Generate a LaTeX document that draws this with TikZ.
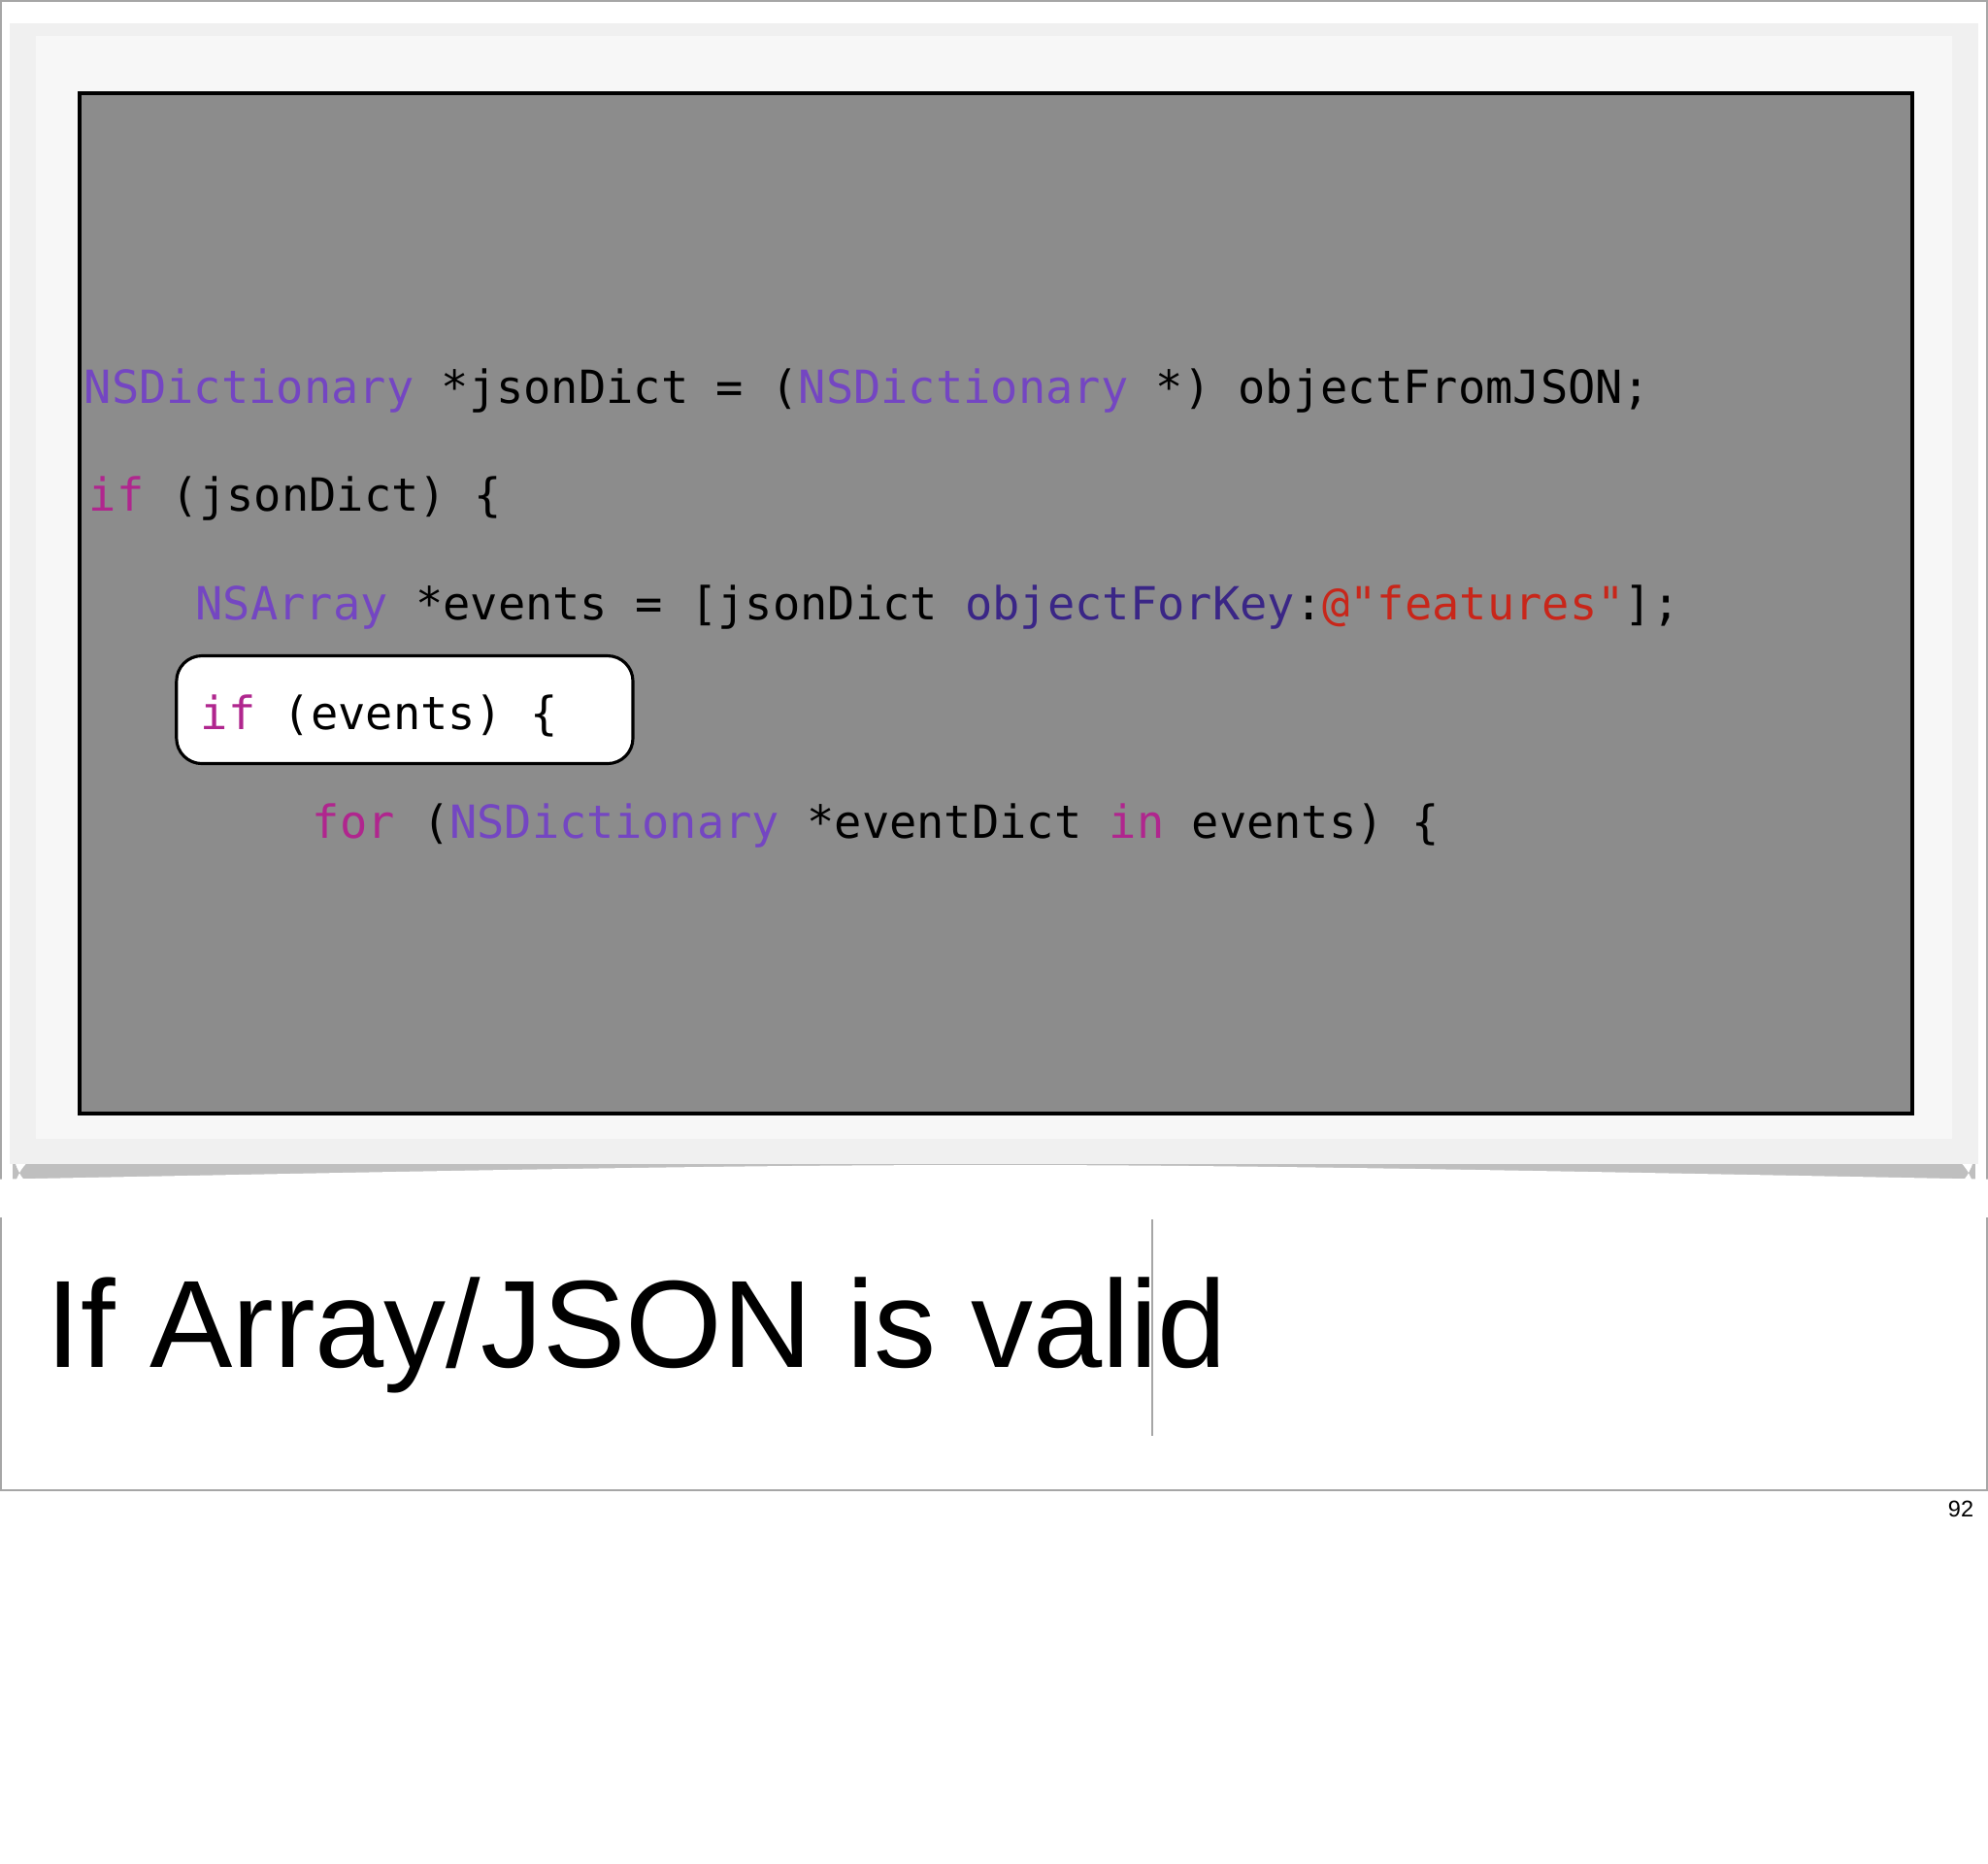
\documentclass[tikz,border=0pt]{standalone}
\usepackage{fontspec}
\setmainfont{Liberation Sans}
\newfontfamily\code{DejaVu Sans Mono}
\definecolor{ty}{HTML}{7446C2}
\definecolor{kw}{HTML}{B0268E}
\definecolor{me}{HTML}{3A2686}
\definecolor{st}{HTML}{C8261A}
\definecolor{bg}{HTML}{8C8C8C}
\tikzset{codeline/.style={anchor=base west,inner sep=0pt,font=\code\fontsize{18}{18}\selectfont,text=black}}
\begin{document}
\begin{tikzpicture}[x=0.5pt,y=-0.5pt]
\useasboundingbox (0,0) rectangle (1568,1470);
\fill[white] (0,0) rectangle (1568,1470);
\draw[gray!70,line width=0.8pt] (0.5,0.5) rectangle (1567,1175);
% shadow
\fill[gray!50,rounded corners=20] (10,905) rectangle (1558,945);
\fill[white] (0,930) .. controls (780,915) .. (1568,930) -- (1568,960) -- (0,960) -- cycle;
% frame
\fill[gray!12] (8,18) rectangle (1560,918);
\fill[gray!6] (28,28) rectangle (1540,898);
\node[draw=black,line width=1.5pt,fill=bg,inner sep=0pt,minimum width=723pt,minimum height=402.5pt,anchor=north west] (panel) at (61,72) {};
\node[codeline] (l1) at (66,318) {\textcolor{ty}{NSDictionary} *jsonDict = (\textcolor{ty}{NSDictionary} *) objectFromJSON;};
\node[codeline] (l2) at (70,403) {\textcolor{kw}{if} (jsonDict) \{};
\node[codeline] (l3) at (154,489) {\textcolor{ty}{NSArray} *events = [jsonDict \textcolor{me}{objectForKey}:\textcolor{st}{@"features"}];};
\node[draw=black,line width=1.2pt,fill=white,rounded corners=10pt,anchor=north west,minimum width=180pt,minimum height=42.5pt,inner sep=0pt] (hl) at (138,516) {};
\node[codeline] (l4) at (158,575) {\textcolor{kw}{if} (events) \{};
\node[codeline] (l5) at (246,661) {\textcolor{kw}{for} (\textcolor{ty}{NSDictionary} *eventDict \textcolor{kw}{in} events) \{};
\node[anchor=base west,inner sep=0pt,font=\fontsize{49}{49}\selectfont] (title) at (36,1078) {If Array/JSON is valid};
\coordinate (va) at (909,962);
\coordinate (vb) at (909,1132);
\draw[gray!70,line width=0.8pt] (va) -- (vb);
\node[anchor=base east,inner sep=0pt,font=\fontsize{9}{9}\selectfont] (pg) at (1557,1196) {92};
\end{tikzpicture}
\end{document}
